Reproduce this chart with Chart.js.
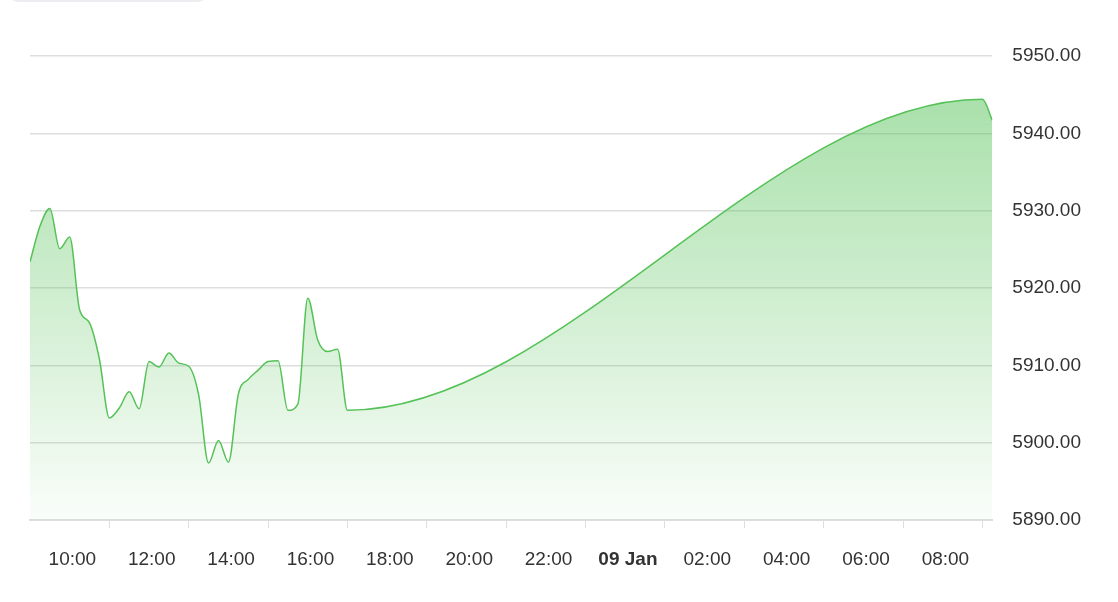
<!DOCTYPE html>
<html>
<head>
<meta charset="utf-8">
<script src="https://cdn.jsdelivr.net/npm/chart.js@4"></script>
<style>
  html, body { margin: 0; padding: 0; background: #fff; }
  #wrap { position: relative; width: 1118px; height: 602px; }
  #tab { position: absolute; left: 10px; top: -18px; width: 196px; height: 20px; border-radius: 8px; background: #ededf1; }
</style>
</head>
<body>
<div id="wrap">
  <div id="tab"></div>
  <canvas id="myChart" width="1118" height="602"></canvas>
</div>
<script>
// hours since 00:00 on 08 Jan (24 = 09 Jan 00:00)
var hours = [8.0, 8.25, 8.5, 8.75, 9.0, 9.25, 9.5, 9.75, 10.0, 10.25, 10.5, 10.75,
  11.0, 11.25, 11.5, 11.75, 12.0, 12.25, 12.5, 12.75, 13.0, 13.25, 13.5, 13.75,
  14.0, 14.25, 14.5, 14.75, 15.0, 15.25, 15.5, 15.75, 16.0, 32.0, 32.25];
var prices = [5923.4, 5928.0, 5930.3, 5925.1, 5926.6, 5917.2, 5915.5, 5910.8, 5903.2, 5904.5, 5906.6, 5904.4,
  5910.5, 5909.8, 5911.6, 5910.3, 5909.9, 5906.2, 5897.4, 5900.3, 5897.5, 5906.3, 5908.2, 5909.4,
  5910.5, 5910.6, 5904.2, 5905.0, 5918.7, 5913.3, 5911.8, 5912.1, 5904.2, 5944.4, 5941.7];
var tickHours = [10, 12, 14, 16, 18, 20, 22, 24, 26, 28, 30, 32];
var yTicks = [5890, 5900, 5910, 5920, 5930, 5940, 5950];

var points = hours.map(function(h, i) { return {x: h, y: prices[i]}; });

function tickText(h) {
  if (h === 24) return '09 Jan';
  var hh = h % 24;
  return (hh < 10 ? '0' : '') + hh + ':00';
}

var ctx = document.getElementById('myChart').getContext('2d');
var myChart = new Chart(ctx, {
  type: 'line',
  data: {
    datasets: [{
      data: points,
      borderColor: '#55c257',
      borderWidth: 1.5,
      pointRadius: 0,
      cubicInterpolationMode: 'monotone',
      fill: true,
      backgroundColor: function(c) {
        var area = c.chart.chartArea;
        if (!area) return 'rgba(85,194,87,0.3)';
        var g = c.chart.ctx.createLinearGradient(0, area.top, 0, area.bottom);
        g.addColorStop(0, 'rgba(85,194,87,0.55)');
        g.addColorStop(1, 'rgba(85,194,87,0.03)');
        return g;
      }
    }]
  },
  options: {
    responsive: false,
    animation: false,
    layout: { padding: { left: 30, top: 56, right: 17, bottom: 11 } },
    plugins: { legend: { display: false }, tooltip: { enabled: false } },
    scales: {
      x: {
        type: 'linear',
        min: 8.0,
        max: 32.25,
        afterBuildTicks: function(axis) {
          axis.ticks = tickHours.map(function(v) { return {value: v}; });
        },
        grid: { drawOnChartArea: false, tickLength: 8, color: '#dedede' },
        border: { color: '#dedede', width: 2 },
        ticks: {
          autoSkip: false,
          maxRotation: 0,
          padding: 20,
          labelOffset: -37,
          color: '#333',
          font: function(c) {
            return { family: 'Liberation Sans', size: 19, weight: c.tick && c.tick.value === 24 ? 'bold' : 'normal' };
          },
          callback: function(v) { return tickText(v); }
        }
      },
      y: {
        position: 'right',
        min: 5890,
        max: 5950,
        afterBuildTicks: function(axis) {
          axis.ticks = yTicks.map(function(v) { return {value: v}; });
        },
        grid: { drawTicks: false, color: '#dedede', lineWidth: 1.5 },
        border: { display: false },
        ticks: {
          padding: 20,
          color: '#333',
          font: { family: 'Liberation Sans', size: 19 },
          callback: function(v) { return v.toFixed(2); }
        }
      }
    }
  }
});
</script>
</body>
</html>
